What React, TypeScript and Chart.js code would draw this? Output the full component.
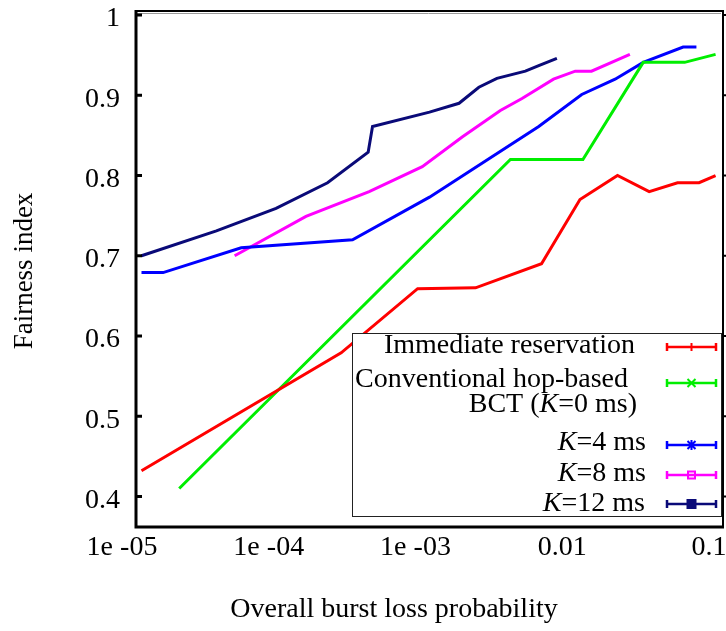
import React, { useEffect, useRef } from "react";
import { Chart, registerables } from "chart.js";

Chart.register(...registerables);

const FONT = '"Liberation Serif", "Times New Roman", serif';

// Axis ticks
const xTickValues = [1e-5, 1e-4, 1e-3, 1e-2, 1e-1];
const xTickLabels = ["1e -05", "1e -04", "1e -03", "0.01", "0.1"];
const yTickValues = [0.4, 0.5, 0.6, 0.7, 0.8, 0.9, 1.0];
const yTickLabels = ["0.4", "0.5", "0.6", "0.7", "0.8", "0.9", "1"];

const xTitle = "Overall burst loss probability";
const yTitle = "Fairness index";

// Immediate reservation (red)
const immediateX = [1.09e-5, 2.5e-4, 8.3e-4, 2.06e-3, 5.8e-3, 1.06e-2, 1.91e-2, 3.14e-2, 4.9e-2, 6.87e-2, 8.9e-2];
const immediateY = [0.432, 0.579, 0.659, 0.66, 0.69, 0.77, 0.8, 0.78, 0.791, 0.791, 0.8];

// Conventional hop-based BCT, K=0 ms (green)
const conventionalX = [1.97e-5, 3.56e-3, 1.11e-2, 2.86e-2, 5.48e-2, 8.9e-2];
const conventionalY = [0.41, 0.82, 0.82, 0.941, 0.941, 0.951];

// K=4 ms (blue)
const k4X = [1.09e-5, 1.53e-5, 5.21e-5, 2.99e-4, 1.0e-3, 5.55e-3, 1.09e-2, 1.84e-2, 2.86e-2, 5.35e-2, 6.59e-2];
const k4Y = [0.679, 0.679, 0.71, 0.72, 0.773, 0.861, 0.901, 0.92, 0.941, 0.96, 0.96];

// K=8 ms (magenta)
const k8X = [4.7e-5, 1.44e-4, 3.88e-4, 8.93e-4, 1.67e-3, 3.04e-3, 4.27e-3, 7.0e-3, 9.84e-3, 1.27e-2, 2.32e-2];
const k8Y = [0.7, 0.749, 0.78, 0.811, 0.848, 0.881, 0.896, 0.92, 0.93, 0.93, 0.951];

// K=12 ms (navy)
const k12X = [1.09e-5, 3.53e-5, 9.0e-5, 2.02e-4, 3.82e-4, 4.09e-4, 1.0e-3, 1.59e-3, 2.17e-3, 2.88e-3, 4.5e-3, 5.55e-3, 7.38e-3];
const k12Y = [0.7, 0.731, 0.759, 0.791, 0.829, 0.861, 0.879, 0.89, 0.91, 0.921, 0.93, 0.937, 0.946];

const seriesLabels = [
  ["Immediate reservation"],
  ["Conventional hop-based", "BCT (K=0 ms)"],
  ["K=4 ms"],
  ["K=8 ms"],
  ["K=12 ms"],
];
const seriesColors = ["#ff0000", "#00ee00", "#0000ff", "#ff00ff", "#0a0a78"];
const seriesMarkers = ["plus", "cross", "star", "square", "filled"];
const seriesX = [immediateX, conventionalX, k4X, k8X, k12X];
const seriesY = [immediateY, conventionalY, k4Y, k8Y, k12Y];

// legend layout (pixels)
const legendBox = { left: 352, top: 333, right: 721, bottom: 516 };
const legendRowY = [347, 383, 445, 475, 504];
const legendBaselines = [[353], [387, 412], [450], [481], [511]];
const legendRights = [[635], [628, 637], [646], [646], [645]];

function drawRich(ctx: CanvasRenderingContext2D, text: string, rightX: number, baseline: number, size: number) {
  const parts = text.split(/(K(?==))/).filter((s) => s.length > 0);
  const fonts = parts.map((p) => (p === "K" ? `italic ${size}px ${FONT}` : `${size}px ${FONT}`));
  const widths = parts.map((p, i) => {
    ctx.font = fonts[i];
    return ctx.measureText(p).width;
  });
  let x = rightX - widths.reduce((a, b) => a + b, 0);
  ctx.textAlign = "left";
  ctx.textBaseline = "alphabetic";
  parts.forEach((p, i) => {
    ctx.font = fonts[i];
    ctx.fillText(p, x, baseline);
    x += widths[i];
  });
}

function drawMarker(ctx: CanvasRenderingContext2D, kind: string, x: number, y: number, color: string) {
  ctx.save();
  ctx.strokeStyle = color;
  ctx.fillStyle = color;
  ctx.lineWidth = 2;
  ctx.beginPath();
  if (kind === "plus") {
    ctx.moveTo(x, y - 4);
    ctx.lineTo(x, y + 4);
  } else if (kind === "cross") {
    ctx.moveTo(x - 4, y - 4);
    ctx.lineTo(x + 4, y + 4);
    ctx.moveTo(x + 4, y - 4);
    ctx.lineTo(x - 4, y + 4);
  } else if (kind === "star") {
    ctx.moveTo(x - 4, y - 4);
    ctx.lineTo(x + 4, y + 4);
    ctx.moveTo(x + 4, y - 4);
    ctx.lineTo(x - 4, y + 4);
    ctx.moveTo(x, y - 5);
    ctx.lineTo(x, y + 5);
  } else if (kind === "square") {
    ctx.rect(x - 3.5, y - 3.5, 7, 7);
  } else {
    ctx.rect(x - 4, y - 4, 8, 8);
    ctx.fill();
  }
  ctx.stroke();
  ctx.restore();
}

const framePlugin = {
  id: "frameAndLegend",
  afterDraw(chart: any) {
    const ctx: CanvasRenderingContext2D = chart.ctx;
    const { left, right, top, bottom } = chart.chartArea;
    const yScale = chart.scales.y;
    ctx.save();
    // frame
    ctx.strokeStyle = "#000";
    ctx.lineWidth = 2;
    ctx.beginPath();
    ctx.moveTo(left, top);
    ctx.lineTo(right, top);
    ctx.lineTo(right, bottom);
    ctx.stroke();
    ctx.strokeStyle = "#9a9a9a";
    ctx.lineWidth = 1;
    ctx.beginPath();
    ctx.moveTo(left, top + 2.5);
    ctx.lineTo(right - 2, top + 2.5);
    ctx.stroke();
    ctx.strokeStyle = "#000";
    ctx.lineWidth = 3;
    ctx.beginPath();
    ctx.moveTo(left, top - 1);
    ctx.lineTo(left, bottom);
    ctx.lineTo(right + 1, bottom);
    ctx.stroke();
    // y tick marks (inward on left, small on right)
    yTickValues.forEach((v) => {
      const py = yScale.getPixelForValue(v);
      ctx.lineWidth = 3;
      ctx.beginPath();
      ctx.moveTo(left, py);
      ctx.lineTo(left + 6, py);
      ctx.stroke();
      ctx.lineWidth = 2;
      ctx.beginPath();
      ctx.moveTo(right - 1, py);
      ctx.lineTo(right + 3, py);
      ctx.stroke();
    });

    // axis titles
    ctx.fillStyle = "#000";
    ctx.font = `28px ${FONT}`;
    ctx.textAlign = "center";
    ctx.textBaseline = "alphabetic";
    ctx.fillText(xTitle, 394, 617);
    ctx.save();
    ctx.translate(32, 271);
    ctx.rotate(-Math.PI / 2);
    ctx.font = `27px ${FONT}`;
    ctx.fillText(yTitle, 0, 0);
    ctx.restore();

    // legend
    ctx.fillStyle = "#fff";
    ctx.fillRect(legendBox.left, legendBox.top, legendBox.right - legendBox.left, legendBox.bottom - legendBox.top);
    ctx.strokeStyle = "#222";
    ctx.lineWidth = 1;
    ctx.strokeRect(legendBox.left + 0.5, legendBox.top + 0.5, legendBox.right - legendBox.left, legendBox.bottom - legendBox.top);
    ctx.fillStyle = "#000";
    seriesLabels.forEach((lines, i) => {
      lines.forEach((line, j) => {
        drawRich(ctx, line, legendRights[i][j], legendBaselines[i][j], 28);
      });
      const y = legendRowY[i];
      const x0 = 667;
      const x1 = 716;
      const color = seriesColors[i];
      ctx.strokeStyle = color;
      ctx.lineWidth = 2.5;
      ctx.beginPath();
      ctx.moveTo(x0, y);
      ctx.lineTo(x1, y);
      ctx.moveTo(x0, y - 4);
      ctx.lineTo(x0, y + 4);
      ctx.moveTo(x1, y - 4);
      ctx.lineTo(x1, y + 4);
      ctx.stroke();
      drawMarker(ctx, seriesMarkers[i], (x0 + x1) / 2, y, color);
    });
    ctx.restore();
  },
};

export default function App() {
  const canvasRef = useRef<HTMLCanvasElement | null>(null);

  useEffect(() => {
    document.body.style.margin = "0";
    const canvas = canvasRef.current;
    if (!canvas) return;
    const datasets = seriesX.map((xs, i) => ({
      label: seriesLabels[i].join(" "),
      data: xs.map((x, k) => ({ x, y: seriesY[i][k] })),
      borderColor: seriesColors[i],
      backgroundColor: seriesColors[i],
      borderWidth: 3,
      pointRadius: 0,
      showLine: true,
      fill: false,
      tension: 0,
    }));
    const chart = new Chart(canvas, {
      type: "scatter",
      data: { datasets },
      options: {
        animation: false,
        responsive: true,
        maintainAspectRatio: false,
        layout: { padding: { top: 11, right: 3, left: 0, bottom: 0 } },
        plugins: { legend: { display: false }, tooltip: { enabled: false } },
        scales: {
          x: {
            type: "logarithmic",
            min: 1e-5,
            max: 1e-1,
            grid: { display: false, drawTicks: false },
            border: { display: false },
            afterBuildTicks: (scale: any) => {
              scale.ticks = xTickValues.map((v) => ({ value: v }));
            },
            afterFit: (scale: any) => {
              scale.height = 104;
              scale.paddingLeft = 0;
              scale.paddingRight = 0;
            },
            ticks: {
              autoSkip: false,
              maxRotation: 0,
              minRotation: 0,
              padding: 4,
              labelOffset: -14,
              color: "#000",
              font: { family: FONT, size: 28 },
              callback: (_v: any, i: number) => xTickLabels[i],
            },
          },
          y: {
            type: "linear",
            min: 0.362,
            max: 1.005,
            grid: { display: false, drawTicks: false },
            border: { display: false },
            afterBuildTicks: (scale: any) => {
              scale.ticks = yTickValues.map((v) => ({ value: v }));
            },
            afterFit: (scale: any) => {
              scale.width = 136;
              scale.paddingTop = 0;
              scale.paddingBottom = 0;
            },
            ticks: {
              autoSkip: false,
              padding: 16,
              labelOffset: 4,
              color: "#000",
              font: { family: FONT, size: 28 },
              callback: (_v: any, i: number) => yTickLabels[i],
            },
          },
        },
      },
      plugins: [framePlugin],
    });
    return () => chart.destroy();
  }, []);

  return (
    <div style={{ position: "fixed", left: 0, top: 0, width: 726, height: 631, background: "#fff" }}>
      <canvas ref={canvasRef} />
    </div>
  );
}
